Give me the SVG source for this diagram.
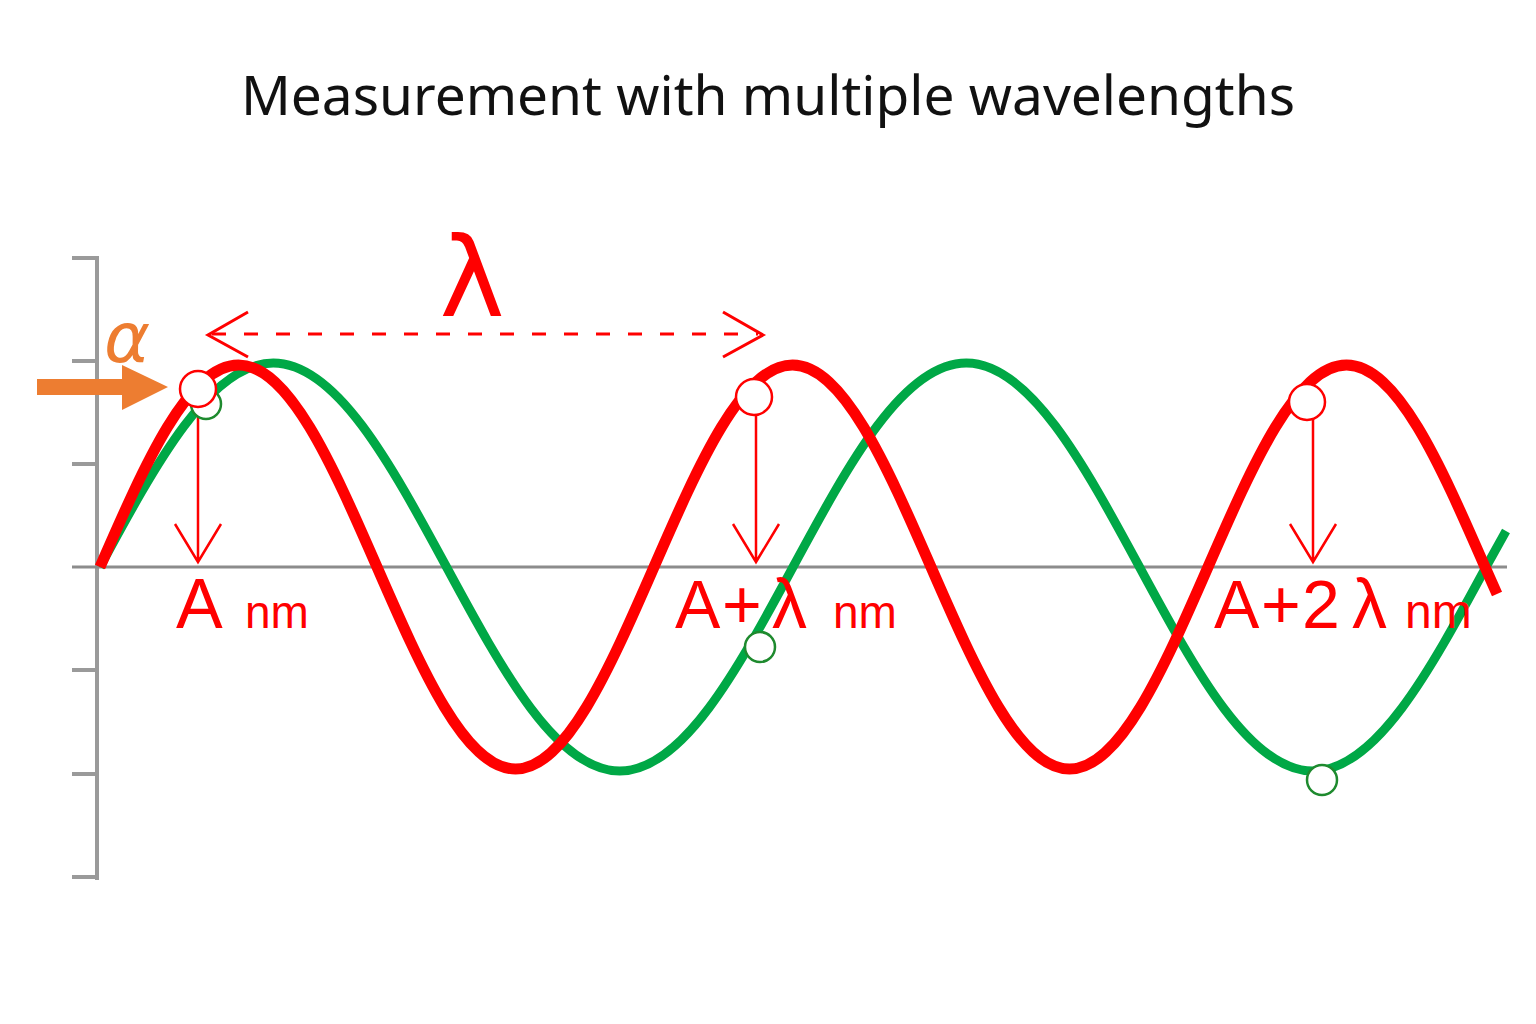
<svg xmlns="http://www.w3.org/2000/svg" width="1536" height="1024" viewBox="0 0 1536 1024">
<style>
.axis{stroke:#9a9a9a;stroke-width:4;fill:none}
.haxis{stroke:#8c8c8c;stroke-width:3;fill:none}
.red{stroke:#ff0000;fill:none;stroke-width:11}
.green{stroke:#00a846;fill:none;stroke-width:9}
.rc{stroke:#ff0000;stroke-width:2.5;fill:#fff}
.gc{stroke:#1e8a2e;stroke-width:2.5;fill:#fff}
.thin{stroke:#ff0000;stroke-width:2.5;fill:none}
.dash{stroke:#ff0000;stroke-width:3;fill:none;stroke-dasharray:14 18}
.lbl{font-family:"Liberation Sans","DejaVu Sans",sans-serif;fill:#ff0000}
</style>
<rect width="1536" height="1024" fill="#fff"/>
<text id="title" x="768" y="115" text-anchor="middle" font-family="'Noto Sans','Open Sans',sans-serif" font-size="55" fill="#111">Measurement with multiple wavelengths</text>
<g id="axes">
<path class="axis" d="M97,256V880M72,258H97M72,361H97M72,464H97M72,670H97M72,774H97M72,877H97"/>
<path class="haxis" d="M72,567H1507"/>
</g>
<g id="waves">
<path id="green-wave" class="green" d="M100,567 C156.5,462.5 210.55,363 273.25,363 C335.95,363 390,462.5 446.5,567 C503,671.5 557.05,771 619.75,771 C682.45,771 736.5,671.5 793,567 C849.5,462.5 903.55,363 966.25,363 C1028.95,363 1083,462.5 1139.5,567 C1196,671.5 1250.05,771 1312.75,771 C1375.45,771 1429.5,671.5 1486,567 L1506,531"/>
<path id="red-wave" class="red" d="M100,567 C145.17,463.5 188.38,365 238.5,365 C288.62,365 331.83,463.5 377,567 C422.17,670.5 465.38,769 515.5,769 C565.62,769 608.83,670.5 654,567 C699.17,463.5 742.38,365 792.5,365 C842.62,365 885.83,463.5 931,567 C976.17,670.5 1019.38,769 1069.5,769 C1119.62,769 1162.83,670.5 1208,567 C1253.17,463.5 1296.38,365 1346.5,365 C1396.62,365 1439.83,463.5 1485,567 L1497,594"/>
</g>
<g id="connectors">
<path class="thin" d="M198,406V562M175,524L198,562L221,524"/>
<path class="thin" d="M756,414V562M733,524L756,562L779,524"/>
<path class="thin" d="M1313,419V562M1290,524L1313,562L1336,524"/>
<path class="dash" d="M212,334H758"/>
<path class="dash" style="stroke-dasharray:none" d="M248,312L208,335L248,357M723,312L763,335L723,357"/>
<polygon id="alpha-arrow" fill="#ed7d31" points="37,379 122,379 122,365 168,387 122,410 122,395 37,395"/>
</g>
<g id="markers">
<circle class="gc" cx="206" cy="404" r="15"/>
<circle class="rc" cx="198" cy="389" r="18"/>
<circle class="rc" cx="754" cy="397" r="18"/>
<circle class="gc" cx="760" cy="647" r="15"/>
<circle class="rc" cx="1307" cy="402" r="18"/>
<circle class="gc" cx="1322" cy="780" r="15"/>
</g>
<g id="labels">
<text x="472" y="316" text-anchor="middle" font-family="'DejaVu Sans',sans-serif" font-size="110" fill="#ff0000">λ</text>
<text x="104" y="362" font-family="'DejaVu Sans',sans-serif" font-style="italic" font-size="70" fill="#ed7d31">α</text>
<text class="lbl" y="628"><tspan x="176" font-size="70">A</tspan><tspan x="245" font-size="46">nm</tspan></text>
<text class="lbl" y="628"><tspan x="675" font-size="68">A</tspan><tspan x="722" font-size="68">+</tspan><tspan x="772" font-size="70">λ</tspan><tspan x="833" font-size="46">nm</tspan></text>
<text class="lbl" y="628"><tspan x="1214" font-size="68">A</tspan><tspan x="1261" font-size="68">+</tspan><tspan x="1302" font-size="68">2</tspan><tspan x="1352" font-size="70">λ</tspan><tspan x="1405" font-size="48">nm</tspan></text>
</g>
</svg>
